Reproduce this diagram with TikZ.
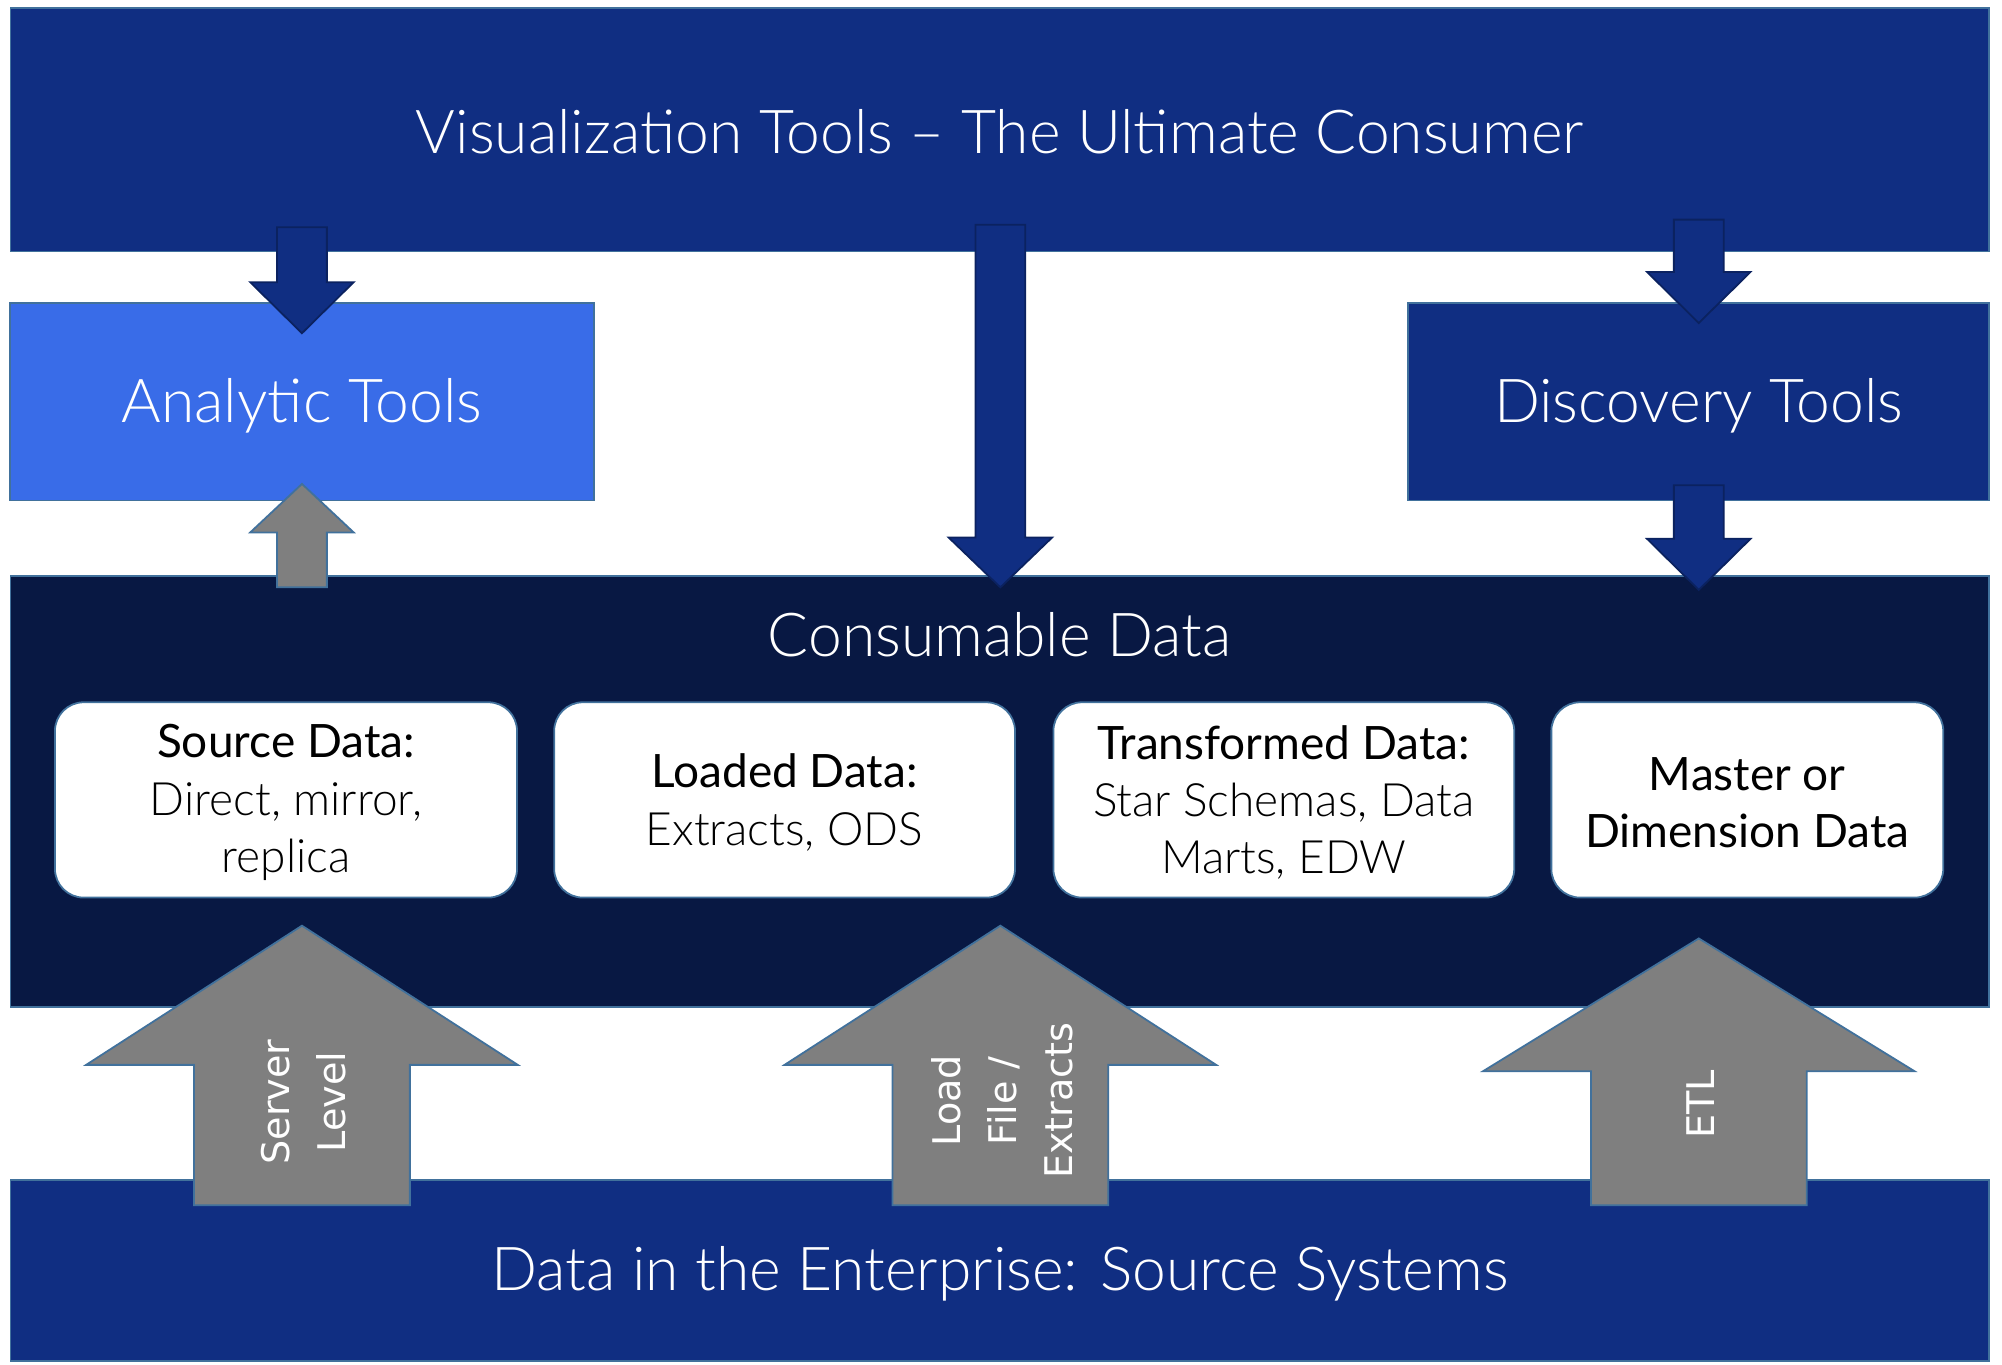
\documentclass[tikz,border=0pt]{standalone}
\usepackage{fontspec}
\setmainfont{Lato}
\newfontfamily\lightfont{Lato Light}
\newfontfamily\arrowfont{DejaVu Sans}
\definecolor{barblue}{HTML}{102E82}
\definecolor{lightblue}{HTML}{396CE8}
\definecolor{navy}{HTML}{081843}
\definecolor{edgeblue}{HTML}{41719C}
\definecolor{arrowgray}{HTML}{7F7F7F}
\definecolor{arrowedge}{HTML}{0B2260}
\tikzset{
  bar/.style={draw=edgeblue,line width=0.8pt,fill=barblue,inner sep=0pt,outer sep=0pt},
  bigtext/.style={text=white,font=\lightfont\fontsize{27}{31}\selectfont},
  databox/.style={draw=edgeblue,line width=0.8pt,fill=white,rounded corners=0.45cm,
    minimum height=3.06cm,inner sep=0pt},
  boxtext/.style={align=center,font=\fontsize{20.5}{25.6}\selectfont},
  darkarrow/.style={draw=arrowedge,line width=0.8pt,fill=barblue},
  grayarrow/.style={draw=edgeblue,line width=0.8pt,fill=arrowgray},
  arrowtext/.style={text=white,rotate=90,align=center,font=\arrowfont\fontsize{17}{25}\selectfont}
}
% style, x, tail, head base, tip, half shaft, half head
\newcommand{\blkarrow}[7]{\draw[#1] (#2-#6,#3) -- (#2-#6,#4) -- (#2-#7,#4) -- (#2,#5) -- (#2+#7,#4) -- (#2+#6,#4) -- (#2+#6,#3) -- cycle;}
\begin{document}
\begin{tikzpicture}[x=0.02cm,y=-0.02cm]
\useasboundingbox (0,0) rectangle (1568,1069);
% bars
\node[bar,minimum width=31cm,minimum height=3.82cm] (viz) at (783,101.5) {};
\node[bigtext] (viztext) at (783,103) {Visualization Tools – The Ultimate Consumer};
\node[bar,minimum width=31cm,minimum height=6.76cm,fill=navy] (consumable) at (783,620) {};
\node[bigtext] (context) at (783,497) {Consumable Data};
\node[bar,minimum width=31cm,minimum height=2.84cm] (enterprise) at (783,995) {};
\node[bigtext] (enttext) at (783,998) {Data in the Enterprise: Source Systems};
% tool boxes
\node[bar,minimum width=9.14cm,minimum height=3.1cm,fill=lightblue] (analytic) at (236.5,314.5) {};
\node[bar,minimum width=9.1cm,minimum height=3.1cm] (discovery) at (1330.5,314.5) {};
% arrows from the consumer
\blkarrow{darkarrow}{236.5}{178}{221}{261}{19.5}{40.5}
\blkarrow{darkarrow}{783.5}{176}{421}{460}{19.5}{40.5}
\blkarrow{darkarrow}{1330.5}{172}{213}{253}{19.5}{40.5}
\blkarrow{darkarrow}{1330.5}{380}{422}{462}{19.5}{40.5}
\blkarrow{grayarrow}{236.5}{460}{417}{379}{19.5}{40.5}
\node[bigtext] (antext) at (236.5,318) {Analytic Tools};
\node[bigtext] (distext) at (1330.5,318) {Discovery Tools};
% consumable data
\node[databox,minimum width=7.24cm] (src) at (224,626.5) {};
\node[databox,minimum width=7.22cm] (loaded) at (614.5,626.5) {};
\node[databox,minimum width=7.22cm] (transformed) at (1005.5,626.5) {};
\node[databox,minimum width=6.14cm] (master) at (1368.5,626.5) {};
\node[boxtext] (srctext) at ([yshift=-0.04cm]src) {Source Data:\\{\lightfont Direct, mirror,}\\{\lightfont replica}};
\node[boxtext] (loadedtext) at ([yshift=-0.04cm]loaded) {Loaded Data:\\{\lightfont Extracts, ODS}};
\node[boxtext] (transtext) at ([yshift=-0.04cm]transformed) {Transformed Data:\\{\lightfont Star Schemas, Data}\\{\lightfont Marts, EDW}};
\node[boxtext] (mastertext) at ([yshift=-0.04cm]master) {Master or\\Dimension Data};
% source arrows
\blkarrow{grayarrow}{236.5}{944}{834}{725}{84.5}{169}
\blkarrow{grayarrow}{783.5}{944}{834}{725}{84.5}{169}
\blkarrow{grayarrow}{1330.5}{944}{839}{735}{84.5}{169}
\node[arrowtext] (server) at (238,863) {Server\\Level};
\node[arrowtext] (load) at (785,862) {Load\\File /\\Extracts};
\node[arrowtext] (etl) at (1332,865) {ETL};
\end{tikzpicture}
\end{document}
